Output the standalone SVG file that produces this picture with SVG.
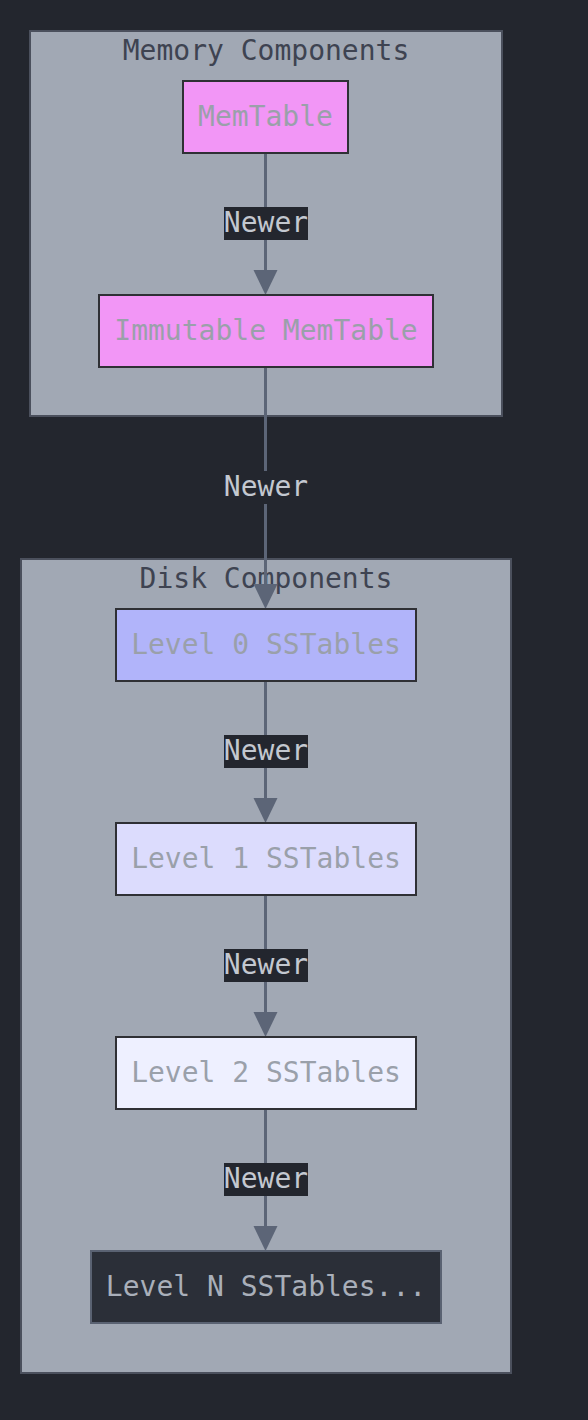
<svg xmlns="http://www.w3.org/2000/svg" width="588" height="1420" viewBox="0 0 588 1420">
<style>
text{font-family:"DejaVu Sans Mono","Liberation Mono",monospace;font-size:28px;text-anchor:middle;dominant-baseline:central}
.cluster rect{fill:#a1a8b4;stroke:#4b505d;stroke-width:2}
.ctitle{fill:#3e4351}
.node rect{stroke:#2f3035;stroke-width:2}
.ntext{fill:#9aa0aa}
.edge{stroke:#5c6577;stroke-width:3;fill:none}
.lblbg{fill:#23262e}
.lbl{fill:#c3c8d0}
</style>
<rect width="588" height="1420" fill="#23262e"/>
<g id="cluster-memory" class="cluster">
<rect x="30" y="31" width="472" height="385"/>
<text class="ctitle" x="266" y="50">Memory Components</text>
</g>
<g id="cluster-disk" class="cluster">
<rect x="21" y="559" width="490" height="814"/>
<text class="ctitle" x="266" y="578">Disk Components</text>
</g>
<g id="connectors">
<path class="edge" d="M265.5,153 V270" />
<path d="M253.5,270 L265.5,295 L277.5,270 z" fill="#5c6577"/>
<path class="edge" d="M265.5,367 V584" />
<path d="M253.5,584 L265.5,609 L277.5,584 z" fill="#5c6577"/>
<path class="edge" d="M265.5,681 V798" />
<path d="M253.5,798 L265.5,823 L277.5,798 z" fill="#5c6577"/>
<path class="edge" d="M265.5,895 V1012" />
<path d="M253.5,1012 L265.5,1037 L277.5,1012 z" fill="#5c6577"/>
<path class="edge" d="M265.5,1109 V1226" />
<path d="M253.5,1226 L265.5,1251 L277.5,1226 z" fill="#5c6577"/>
<rect class="lblbg" x="224" y="207" width="84" height="33"/>
<text class="lbl" x="266" y="222">Newer</text>
<rect class="lblbg" x="224" y="471" width="84" height="33"/>
<text class="lbl" x="266" y="486">Newer</text>
<rect class="lblbg" x="224" y="735" width="84" height="33"/>
<text class="lbl" x="266" y="750">Newer</text>
<rect class="lblbg" x="224" y="949" width="84" height="33"/>
<text class="lbl" x="266" y="964">Newer</text>
<rect class="lblbg" x="224" y="1163" width="84" height="33"/>
<text class="lbl" x="266" y="1178">Newer</text>
</g>
<g id="memtable" class="node">
<rect x="183" y="81" width="165" height="72" fill="#f296f6"/>
<text class="ntext" x="265.5" y="116">MemTable</text>
</g>
<g id="immutable" class="node">
<rect x="99" y="295" width="334" height="72" fill="#f296f6"/>
<text class="ntext" x="266" y="330">Immutable MemTable</text>
</g>
<g id="level0" class="node">
<rect x="116" y="609" width="300" height="72" fill="#b1b4fa"/>
<text class="ntext" x="266" y="644">Level 0 SSTables</text>
</g>
<g id="level1" class="node">
<rect x="116" y="823" width="300" height="72" fill="#dcdcfd"/>
<text class="ntext" x="266" y="858">Level 1 SSTables</text>
</g>
<g id="level2" class="node">
<rect x="116" y="1037" width="300" height="72" fill="#eef0ff"/>
<text class="ntext" x="266" y="1072">Level 2 SSTables</text>
</g>
<g id="levelN" class="node">
<rect x="91" y="1251" width="350" height="72" fill="#2b2f38" style="stroke:#5a6272"/>
<text x="266" y="1286" fill="#a9afba">Level N SSTables...</text>
</g>
</svg>
